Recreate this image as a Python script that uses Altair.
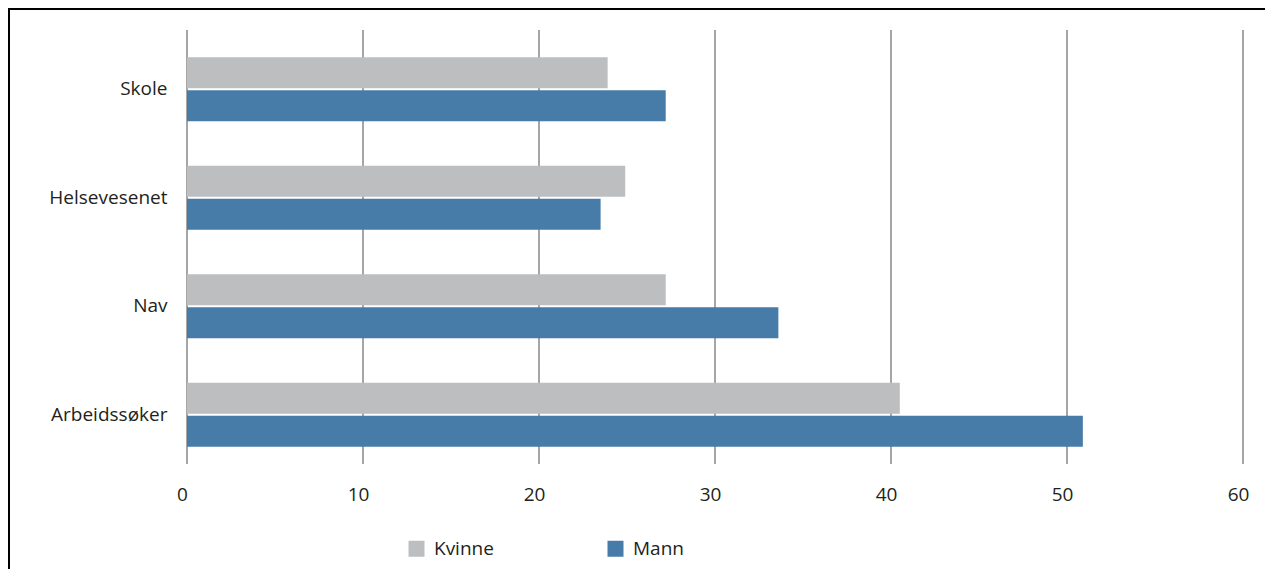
import altair as alt
import pandas as pd

categories = ["Skole", "Helsevesenet", "Nav", "Arbeidssøker"]
kvinne = [23.9, 24.9, 27.2, 40.5]
mann = [27.2, 23.5, 33.6, 50.9]
series = ["Kvinne", "Mann"]
colors = ["#bcbec0", "#477ba8"]
ticks = [0, 10, 20, 30, 40, 50, 60]

rows = []
for c, k, m in zip(categories, kvinne, mann):
    rows.append({"kategori": c, "kjonn": "Kvinne", "verdi": k})
    rows.append({"kategori": c, "kjonn": "Mann", "verdi": m})
df = pd.DataFrame(rows)
grid_df = pd.DataFrame({"t": ticks})
one_df = pd.DataFrame({"t": [0]})

W, H = 1056, 434
FONT = "Open Sans"
TXT = "#231f20"
FS = 19

xscale = alt.Scale(domain=[0, 60], nice=False, zero=True)
xaxis = alt.Axis(title=None, values=ticks, grid=False, ticks=False, domain=False,
                 labelPadding=16, labelOffset=-5, labelFlush=False, labelFontSize=FS,
                 labelFont=FONT, labelColor=TXT)

grid = alt.Chart(grid_df).mark_rule(color="#4d4d4d", strokeWidth=1).encode(
    x=alt.X("t:Q", scale=xscale, axis=xaxis),
    y=alt.value(-5),
    y2=alt.value(H - 5),
)

bars = alt.Chart(df).mark_bar(size=31).encode(
    y=alt.Y("kategori:N", sort=categories,
            scale=alt.Scale(paddingInner=0.41, paddingOuter=0.205),
            axis=alt.Axis(title=None, ticks=False, domain=False, labelPadding=20,
                          labelFontSize=FS, labelFont=FONT, labelColor=TXT)),
    yOffset=alt.YOffset("kjonn:N", sort=series, scale=alt.Scale(paddingInner=0.06)),
    x=alt.X("verdi:Q", scale=xscale, axis=xaxis),
    color=alt.Color("kjonn:N", sort=series,
                    scale=alt.Scale(domain=series, range=colors),
                    legend=alt.Legend(title=None, orient="none", direction="horizontal",
                                      legendX=220, legendY=504, symbolType="square",
                                      symbolSize=256, symbolStrokeWidth=0, symbolOpacity=1,
                                      labelFontSize=FS, labelFont=FONT, labelColor=TXT,
                                      labelOffset=8, columnPadding=112)),
)

frame = alt.Chart(one_df).mark_rect(fill=None, fillOpacity=0, stroke="#000000",
                                    strokeWidth=2, clip=False).encode(
    x=alt.value(-178), x2=alt.value(W + 120),
    y=alt.value(-26), y2=alt.value(H + 200),
)

chart = alt.layer(grid, bars, frame).properties(
    width=W, height=H,
    background="white",
    autosize=alt.AutoSizeParams(type="none"),
    padding={"left": 179, "top": 27, "right": 22, "bottom": 100},
).configure_view(stroke=None)

chart.save("out.html", embed_options={"renderer": "svg", "actions": False})
